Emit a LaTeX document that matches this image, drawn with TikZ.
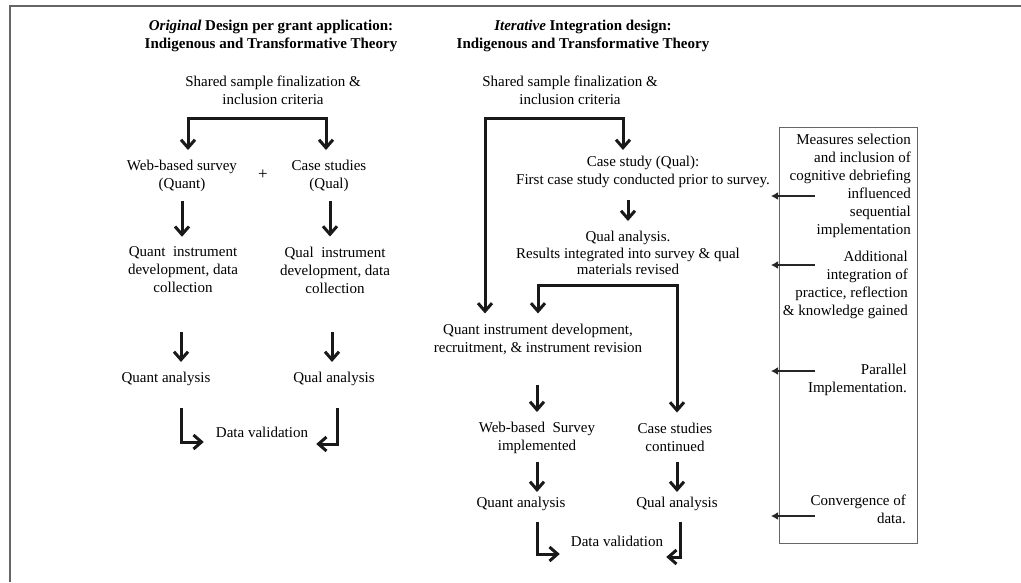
\documentclass[tikz,border=0pt]{standalone}
\usepackage{fontspec}
\setmainfont{Liberation Serif}
\usepackage{tikz}
\usetikzlibrary{arrows.meta, positioning, calc}
\newcommand{\body}{\fontsize{15}{18}\selectfont}

\begin{document}
\begin{tikzpicture}[
  x=1pt, y=-1pt,
  txt/.style={align=center, inner sep=0pt, font=\body, text=black},
  ttl/.style={txt, font=\body\bfseries},
  note/.style={txt, align=right, anchor=east},
  notebox/.style={draw=black!60, line width=0.9pt, minimum width=138pt, minimum height=416pt, inner sep=0pt},
  link/.style={line width=3pt, draw=black!90},
  arr/.style={link, -{Straight Barb[length=8pt, width=14pt]}},
  side/.style={line width=2.4pt, draw=black!85, -{Latex[length=7pt, width=8pt]}},
  frame/.style={draw=black!60, line width=2pt}
]
\useasboundingbox (0,0) rectangle (1021,582);
\draw[frame] (10,582) -- (10,6) -- (1021,6);

% original design
\node[ttl] (ltitle) at (271,36) {\textit{Original} Design per grant application:\\Indigenous and Transformative Theory};
\node[txt] (lshare) at (273,90) {Shared sample finalization \&\\inclusion criteria};
\node[txt] (lweb) at (182,176) {Web-based survey\\(Quant)};
\node[txt, font=\fontsize{17}{18}\selectfont] (lplus) at (263,175) {+};
\node[txt] (lcase) at (329,176) {Case studies\\(Qual)};
\node[txt] (lqinst) at (183,270) {Quant~ instrument\\development, data\\collection};
\node[txt] (llinst) at (335,270) {Qual~ instrument\\development, data\\collection};
\node[txt] (lqa) at (166,379) {Quant analysis};
\node[txt] (lla) at (334,379) {Qual analysis};
\node[txt] (lval) at (262,432) {Data validation};

\coordinate (lsl) at (188,118);
\coordinate (lsr) at (326,118);
\draw[arr, shorten >=10pt] (lsr) -- (lsl) -- (lsl |- lweb.north);
\draw[arr, shorten >=10pt] (lsl) -- (lsr) -- (lsr |- lcase.north);
\draw[arr, shorten <=9pt, shorten >=10pt] (lweb.south) -- (lweb.south |- lqinst.north);
\draw[arr, shorten <=9pt, shorten >=10pt] ([xshift=1pt]lcase.south) -- ([xshift=1pt]lcase.south |- llinst.north);
\draw[arr, shorten <=39pt, shorten >=10pt] ([xshift=-2pt]lqinst.south) -- ([xshift=-2pt]lqinst.south |- lqa.north);
\draw[arr, shorten <=39pt, shorten >=10pt] ([xshift=-3pt]llinst.south) -- ([xshift=-3pt]llinst.south |- lla.north);
\draw[arr, shorten <=22pt, shorten >=12pt] ([xshift=15pt]lqa.south) |- ([yshift=-10pt]lval.west);
\draw[arr, shorten <=22pt, shorten >=8pt] ([xshift=3pt]lla.south) |- ([yshift=-12pt]lval.east);

% iterative design
\node[ttl] (mtitle) at (583,36) {\textit{Iterative} Integration design:\\Indigenous and Transformative Theory};
\node[txt] (mshare) at (570,90) {Shared sample finalization \&\\inclusion criteria};
\node[txt] (mcase) at (643,172) {Case study (Qual):\\First case study conducted prior to survey.};
\node[txt, font=\fontsize{15}{16.5}\selectfont] (mqual) at (628,253) {Qual analysis.\\Results integrated into survey \& qual\\materials revised};
\node[txt] (mqinst) at (538,339) {Quant instrument development,\\recruitment, \& instrument revision};
\node[txt] (mweb) at (537,438) {Web-based~ Survey\\implemented};
\node[txt] (mcont) at (675,437) {Case studies\\continued};
\node[txt] (mqa) at (521,504) {Quant analysis};
\node[txt] (mla) at (677,504) {Qual analysis};
\node[txt] (mval) at (617,541) {Data validation};

\coordinate (msl) at (485,118);
\coordinate (msr) at (623,118);
\coordinate (mjl) at (538,285);
\coordinate (mjr) at (677,285);
\draw[arr, shorten >=6pt] (msl) -- (msr) -- (msr |- mcase.north);
\draw[arr, shorten >=10pt] (msr) -- (msl) -- (msl |- mqinst.north);
\draw[arr, shorten <=12pt, shorten >=10pt] ([xshift=-15pt]mcase.south) -- ([xshift=-15pt]mcase.south |- mqual.north);
\draw[arr, shorten >=10pt] (mjr) -- (mjl) -- (mjl |- mqinst.north);
\draw[arr, shorten >=10pt] (mjl) -- (mjr) -- (mjr |- mcont.north);
\draw[arr, shorten <=30pt, shorten >=10pt] ([xshift=-1pt]mqinst.south) -- ([xshift=-1pt]mqinst.south |- mweb.north);
\draw[arr, shorten <=8pt, shorten >=5pt] (mweb.south) -- (mweb.south |- mqa.north);
\draw[arr, shorten <=11pt, shorten >=5pt] ([xshift=2pt]mcont.south) -- ([xshift=2pt]mcont.south |- mla.north);
\draw[arr, shorten <=11pt, shorten >=11pt] ([xshift=16pt]mqa.south) |- ([yshift=-13pt]mval.west);
\draw[arr, shorten <=11pt, shorten >=3pt] ([xshift=3pt]mla.south) |- ([yshift=-16pt]mval.east);

% notes box
\node[notebox] (notes) at (848,335) {};
\node[note] (rmeas) at (911,186) {Measures selection\\and inclusion of\\cognitive debriefing\\influenced\\sequential\\implementation};
\node[note] (radd) at (908,285) {Additional\\integration of\\practice, reflection\\\& knowledge gained};
\node[note] (rpar) at (907,380) {Parallel\\Implementation.};
\node[note] (rconv) at (906,509) {Convergence of\\data.};

\coordinate (s1a) at (815,196);
\coordinate (s1b) at (771,196);
\coordinate (s2a) at (815,265);
\coordinate (s2b) at (771,265);
\coordinate (s3a) at (815,371);
\coordinate (s3b) at (771,371);
\coordinate (s4a) at (815,516);
\coordinate (s4b) at (771,516);
\draw[side] (s1a) -- (s1b);
\draw[side] (s2a) -- (s2b);
\draw[side] (s3a) -- (s3b);
\draw[side] (s4a) -- (s4b);
\end{tikzpicture}
\end{document}
